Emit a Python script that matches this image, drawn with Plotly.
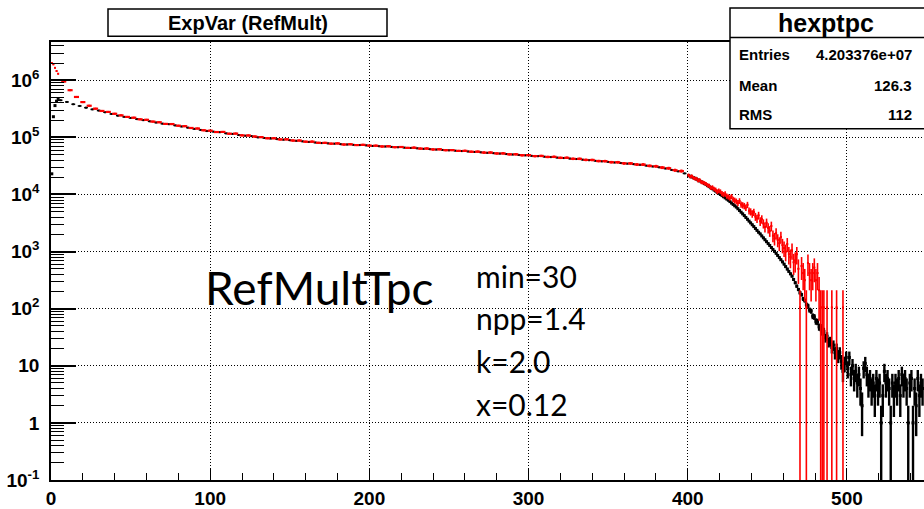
import math
import plotly.graph_objects as go

# ---------------- histogram contents ----------------
# first bins (width 1)
x_lo = [0.5, 1.5, 2.5, 3.5, 4.5]
data_lo = [23000, 230000, 360000, 430000, 460000]
model_lo = [2000000, 1900000, 1650000, 1450000, 1300000]

# body of the distribution, sampled every 4 units
x_data_mid = list(range(6, 400, 4))
data_mid = [
    447000, 417000, 380000, 355000, 331000, 309000, 295000, 275000, 257000, 240000,
    229000, 219000, 209000, 200000, 191000, 182000, 174000, 170000, 162000, 155000,
    148000, 141000, 135000, 129000, 126000, 123000, 117500, 115000, 110000, 107000,
    105000, 100000, 97700, 95500, 93300, 91200, 89100, 87100, 85100, 83200,
    81300, 79400, 78500, 77600, 75900, 75000, 74100, 73300, 72400, 70800,
    70000, 69200, 68100, 67100, 66100, 65300, 64300, 63100, 62100, 61200,
    60300, 59300, 58500, 57500, 56600, 55600, 54700, 53700, 52800, 52000,
    51000, 50100, 49200, 48400, 47500, 46800, 45900, 45100, 44200, 43400,
    42500, 41700, 40700, 39800, 38900, 38000, 37200, 36300, 35500, 34700,
    33900, 33100, 32000, 30900, 29900, 28500, 26900, 25400, 23400,
]
x_model_mid = list(range(8, 400, 4))
model_mid = [
    950000, 670000, 510000, 415000, 358000, 318000, 290000, 279000, 259000, 243000,
    228000, 221000, 207000, 203000, 189000, 184000, 172000, 171000, 160000, 157000,
    146000, 143000, 133000, 131000, 124000, 124500, 116000, 116500, 108500, 108000,
    103500, 101000, 96500, 96500, 92000, 92300, 88000, 88000, 84000, 84200,
    80300, 80200, 77600, 78400, 75000, 75800, 73300, 74000, 71700, 71500,
    69300, 69900, 67400, 67800, 65400, 66000, 63600, 63800, 61500, 61900,
    59700, 59900, 57900, 58100, 56000, 56200, 54100, 54300, 52300, 52500,
    50500, 50600, 48700, 48900, 47000, 47300, 45400, 45600, 43800, 43900,
    42100, 42100, 40300, 40200, 38500, 38400, 36800, 36700, 35100, 35000,
    33500, 33400, 31700, 31200, 29600, 28800, 26600, 25700,
]

# high-multiplicity tail, bin by bin
x_data_tail = [i + 0.5 for i in range(400, 548)]
data_tail = [
    21400, 20900, 20300, 19700, 19200, 18600, 17900, 17300, 16700, 16100,
    15500, 14900, 14300, 13700, 13100, 12600, 12000, 11500, 10900, 10500,
    10000, 9550, 9120, 8710, 8320, 7940, 7510, 7080, 6700, 6330,
    6030, 5620, 5250, 4900, 4570, 4270, 3960, 3680, 3420, 3180,
    2950, 2740, 2540, 2350, 2180, 2040, 1880, 1740, 1610, 1490,
    1380, 1280, 1180, 1090, 1010, 933, 855, 785, 720, 660,
    603, 545, 495, 450, 408, 372, 325, 285, 248, 217,
    190, 176, 149, 139, 118, 112, 95, 91, 74, 72,
    60, 59, 48, 47, 40, 40, 31, 33, 26, 27,
    21, 23, 17, 20, 15, 17, 12, 8, 11, 14,
    9, 14, 7, 10, 6, 8, 5, 7, 4, 2,
    9, 11, 7, 5, 6, 4, 5, 3, 6, 4,
    5, 1, 3, 8, 5, 6, 4, 1, 5, 3,
    5, 4, 6, 3, 7, 5, 6, 4, 1, 5,
    6, 1, 4, 2, 6, 3, 5, 4,
]
x_model_tail = [i + 0.5 for i in range(400, 500)]
model_tail = [
    21800, 20500, 21000, 19600, 19000, 18900, 17600, 17900, 16500, 16300,
    15800, 15300, 14500, 14200, 13100, 13300, 12500, 12100, 11200, 11600,
    11200, 10400, 10000, 10300, 9400, 9100, 8700, 9200, 8200, 7900,
    7600, 7100, 7700, 6700, 6500, 6300, 5900, 6600, 5200, 5000,
    4600, 4900, 4100, 3800, 4300, 3400, 3700, 3100, 2700, 3200,
    2600, 2300, 2800, 1900, 1700, 2100, 1600, 1400, 1800, 1300,
    1150, 1000, 1350, 900, 800, 1050, 650, 700, 900, 500,
    105, 560, 420, 315, 105, 630, 420, 315, 420, 525,
    315, 420, 210, 105, 105, 105, None, 105, None, None,
    105, None, None, 105, None, None, None, 105, None, None,
]
MODEL_WEIGHT = 105  # weight of one simulated entry

decades = [0.1, 1, 10, 100, 1000, 10000, 100000, 1000000]
decade_text = ["10<sup>-1</sup>", "1", "10", "10<sup>2</sup>", "10<sup>3</sup>",
               "10<sup>4</sup>", "10<sup>5</sup>", "10<sup>6</sup>"]

stats_names = ["Entries", "Mean", "RMS"]
stats_values = ["4.203376e+07", "126.3", "112"]
params = ["min=30", "npp=1.4", "k=2.0", "x=0.12"]

# ---------------- geometry ----------------
W, H = 924, 509
ML, MR, MT, MB = 51, 0, 42, 17
PW, PH = W - ML - MR, H - MT - MB


def px(x):
    return (x - ML) / PW


def py(y):
    return (H - MB - y) / PH


def data_err(v):
    return [math.sqrt(a) if a else None for a in v]


def model_err(v):
    return [math.sqrt(a * MODEL_WEIGHT) if a else None for a in v]


fig = go.Figure()


def add_hist(x, y, err, half, color, width, msize):
    fig.add_trace(go.Scatter(
        x=x, y=y, mode="markers",
        marker=dict(color=color, size=msize, symbol="square", line=dict(width=0)),
        error_y=dict(type="data", array=err, symmetric=True, color=color,
                     thickness=width, width=0),
        error_x=dict(type="constant", value=half, color=color, thickness=width, width=0),
        showlegend=False, hoverinfo="x+y",
    ))


BLACK, RED = "#000000", "#ff0000"
add_hist(x_lo, data_lo, data_err(data_lo), 0.5, BLACK, 1.5, 3)
add_hist(x_data_mid, data_mid, data_err(data_mid), 1.2, BLACK, 1.5, 2)
add_hist(x_data_tail, data_tail, data_err(data_tail), 0.5, BLACK, 2.4, 3)
add_hist(x_lo, model_lo, model_err(model_lo), 0.5, RED, 1.5, 2)
add_hist(x_model_mid, model_mid, model_err(model_mid), 1.6, RED, 2.2, 2)
add_hist(x_model_tail, model_tail, model_err(model_tail), 0.5, RED, 1.6, 2)

axis_font = dict(family="Liberation Sans, Arial, sans-serif", size=19, color="black", weight="bold")
grid_dash = "1px,2px"

minor_y = [k * d for d in decades for k in range(2, 10)]

fig.update_xaxes(
    range=[0, 548.4], showline=True, linecolor="black", linewidth=1.5, mirror=True,
    ticks="inside", ticklen=12, tickwidth=1, tickcolor="black",
    tick0=0, dtick=100, tickfont=axis_font,
    showgrid=True, gridcolor="black", gridwidth=1, griddash=grid_dash,
    zeroline=False,
    minor=dict(dtick=20, ticks="inside", ticklen=7, tickwidth=1, tickcolor="black", showgrid=False),
)
fig.update_yaxes(
    type="log", range=[-1, 6.67], showline=True, linecolor="black", linewidth=1.5,
    ticks="inside", ticklen=25, tickwidth=1.5, tickcolor="black",
    tickvals=decades, ticktext=decade_text, tickfont=axis_font, ticklabelstandoff=6,
    showgrid=True, gridcolor="black", gridwidth=1, griddash=grid_dash,
    zeroline=False,
    minor=dict(tickvals=minor_y, ticks="inside", ticklen=13, tickwidth=1, tickcolor="black", showgrid=False),
)

shapes = []
# title box
shapes.append(dict(type="rect", xref="paper", yref="paper",
                   x0=px(108), x1=px(387), y0=py(36), y1=py(8),
                   line=dict(color="black", width=1.5), fillcolor="white", layer="above"))
# statistics box
shapes.append(dict(type="rect", xref="paper", yref="paper",
                   x0=px(730), x1=px(940), y0=py(131), y1=py(7),
                   line=dict(color="black", width=1.5), fillcolor="white", layer="above"))
shapes.append(dict(type="line", xref="paper", yref="paper",
                   x0=px(730), x1=px(940), y0=py(37.5), y1=py(37.5),
                   line=dict(color="black", width=1.5), layer="above"))

ann = []
bold = dict(family="Liberation Sans, Arial, sans-serif", color="black", weight="bold")
ann.append(dict(text="ExpVar (RefMult)", x=px(247.5), y=py(22.5), xref="paper", yref="paper",
                showarrow=False, xanchor="center", yanchor="middle", font=dict(bold, size=20)))
ann.append(dict(text="hexptpc", x=px(826), y=py(22), xref="paper", yref="paper",
                showarrow=False, xanchor="center", yanchor="middle", font=dict(bold, size=25)))
for i, (name, val) in enumerate(zip(stats_names, stats_values)):
    yy = [55, 86.5, 117][i]
    ann.append(dict(text=name, x=px(737), y=py(yy), xref="paper", yref="paper",
                    showarrow=False, xanchor="left", yanchor="middle", font=dict(bold, size=15)))
    ann.append(dict(text=val, x=px(914), y=py(yy), xref="paper", yref="paper",
                    showarrow=False, xanchor="right", yanchor="middle", font=dict(bold, size=15)))

label_font = dict(family="Lato, Open Sans, sans-serif", color="black")
ann.append(dict(text="RefMultTpc", x=px(203), y=py(294), xref="paper", yref="paper",
                showarrow=False, xanchor="left", yanchor="middle", font=dict(label_font, size=46)))
for i, p in enumerate(params):
    ann.append(dict(text=p, x=px(474), y=py(282 + 44 * i), xref="paper", yref="paper",
                    showarrow=False, xanchor="left", yanchor="middle", font=dict(label_font, size=30)))

fig.update_layout(
    width=W, height=H, margin=dict(l=ML, r=MR, t=MT, b=MB, pad=0),
    paper_bgcolor="white", plot_bgcolor="white",
    shapes=shapes, annotations=ann, showlegend=False,
)

fig.write_html("out.html")
